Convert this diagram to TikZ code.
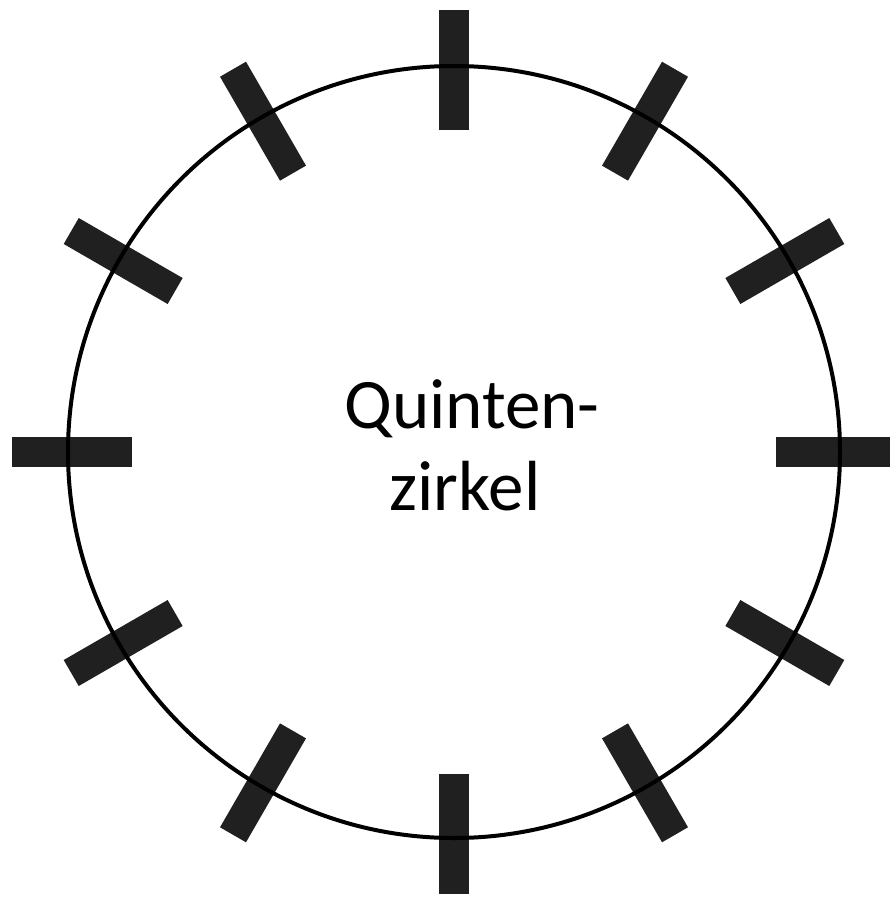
\documentclass[tikz,border=0pt]{standalone}
\usepackage{fontspec}
\setmainfont{Carlito}
\definecolor{tickgray}{RGB}{32,32,32}
\begin{document}
\begin{tikzpicture}[x=1pt,y=-1pt,
  tickbar/.style={fill=tickgray,draw=none},
  ring/.style={draw=black,line width=4pt},
  bigtext/.style={font=\fontsize{71}{82}\selectfont,inner sep=0pt,anchor=base}]
\useasboundingbox (0,0) rectangle (890,899);
\coordinate (c) at (454,452);
\foreach \a in {0,30,...,330}{
  \fill[tickbar,shift={(c)},rotate=-\a] (322,-15) rectangle (442,15);
}
\draw[ring] (c) circle[radius=386];
\node[bigtext] (q) at (472,428) {Quinten-};
\node[bigtext] (z) at (465,510) {zirkel};
\end{tikzpicture}
\end{document}
